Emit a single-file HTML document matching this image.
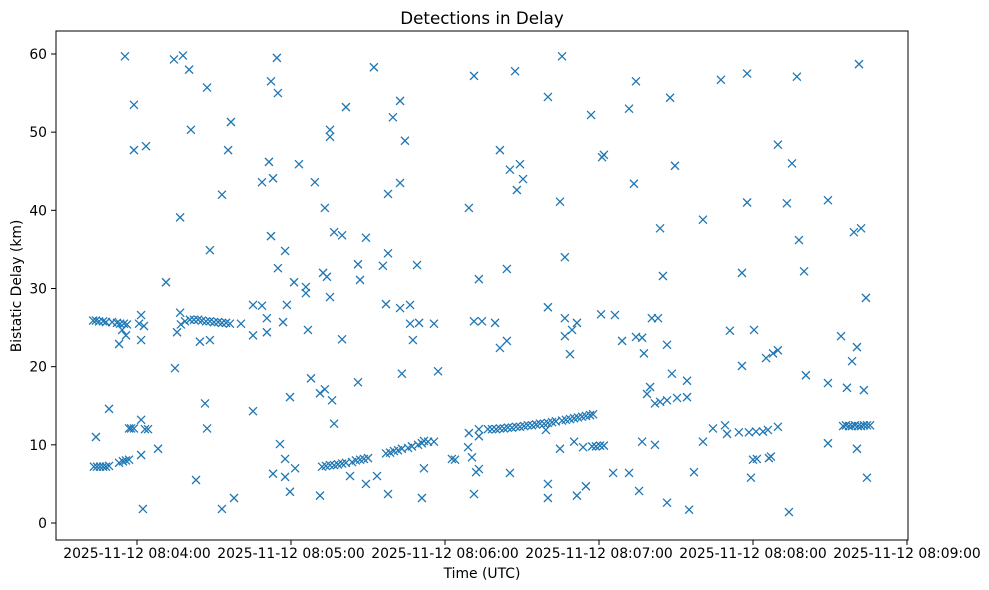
<!DOCTYPE html>
<html><head><meta charset="utf-8"><style>
body{margin:0;background:#fff;}
svg{display:block;font-family:"DejaVu Sans","Liberation Sans",sans-serif;}
</style></head><body>
<svg id="chart" width="989" height="590" viewBox="0 0 989 590" xmlns="http://www.w3.org/2000/svg">
<rect width="989" height="590" fill="#fff"/>
<text x="482" y="24" font-size="16.7" text-anchor="middle" fill="#000">Detections in Delay</text>
<text x="482" y="578" font-size="13.9" text-anchor="middle" fill="#000">Time (UTC)</text>
<text transform="translate(21,286) rotate(-90)" font-size="13.9" text-anchor="middle" fill="#000">Bistatic Delay (km)</text>
<g id="marks"></g>
<g id="axes"></g>
<rect x="56" y="31" width="852" height="509" fill="none" stroke="#000" stroke-width="1"/>
</svg>
<script>
// seconds since 08:03:00 UTC
const times = [55.3,58.8,58.8,63.5,74.4,77.9,80.3,87.3,81.0,76.8,88.4,71.3,76.8,
42.9,44.0,45.2,46.8,47.9,50.3,52.2,53.4,54.9,56.1,
54.2,55.7,53.0,61.6,60.8,62.7,61.6,75.6,
77.1,78.7,80.6,82.2,83.8,85.3,86.9,88.4,90.0,
84.5,88.4,74.8,49.1,44.0,86.5,87.3,
56.9,57.7,58.8,63.1,64.3,61.6,68.2,61.6,
43.2,44.4,45.6,46.8,47.9,49.1,53.0,54.5,55.7,56.9,
83.0,62.3,
114.5,112.2,114.9,141.4,96.6,135.2,135.2,95.5,111.4,123.1,108.7,113.0,129.3,93.1,133.2,112.2,136.8,139.9,149.2,117.7,114.9,121.2,125.8,125.8,132.5,134.0,146.1,146.9,135.2,105.2,108.7,118.4,110.6,116.9,100.5,105.2,110.6,126.6,139.9,
91.6,93.1,94.7,96.2,
127.8,146.1,119.6,131.3,133.2,136.0,105.2,136.8,115.7,117.7,121.6,113.0,117.7,119.6,93.1,97.8,131.3,143.0,149.2,
132.1,133.6,135.2,136.8,138.3,139.9,141.4,143.8,145.3,146.9,148.4,150.0,
152.3,191.3,207.3,162.5,159.7,164.4,201.4,205.3,209.2,210.4,208.0,162.5,157.8,189.3,157.8,155.8,169.1,193.2,204.1,157.0,162.5,166.4,166.4,169.9,175.7,167.5,191.3,194.4,199.5,201.4,204.1,163.2,177.3,
157.0,158.6,160.1,161.7,163.2,165.6,167.1,169.5,171.0,171.8,173.4,175.7,
153.5,157.8,171.0,171.8,182.7,183.9,189.0,190.5,189.3,193.2,193.2,192.1,193.2,191.3,205.3,
196.7,198.3,199.9,201.4,203.0,204.5,206.1,207.7,209.2,210.8,212.3,213.9,215.5,217.0,218.6,220.1,221.7,223.2,225.6,227.1,228.7,230.3,231.8,233.4,234.9,236.5,237.7,
225.6,220.1,236.9,254.4,251.7,241.2,241.9,253.6,224.8,226.7,220.1,226.7,231.4,226.7,229.5,228.7,240.8,246.2,249.0,254.4,256.8,257.5,259.9,258.7,
219.3,224.8,230.3,233.8,237.3,238.8,240.4,241.9,256.8,245.5,251.7,220.1,220.1,231.4,234.9,255.6,
267.7,287.5,297.7,269.6,309.7,297.7,263.8,280.5,264.9,295.7,260.6,263.0,266.5,291.0,300.4,295.7,305.1,307.8,309.7,268.4,274.3,261.8,263.8,266.5,270.4,274.3,
261.8,280.5,284.4,289.1,289.9,294.5,298.4,301.2,303.9,305.8,309.7,300.0,301.5,306.2,307.0,299.2,277.0,266.5,275.1,
317.1,341.3,315.2,313.2,329.2,339.3,342.1,317.9,319.9,344.0,334.3,340.5,338.6,320.6,329.2,336.6,343.2,
335.1,336.2,337.4,338.6,339.7,340.9,342.1,343.2,344.4,345.6,329.2,340.5,344.4,314.0];
// bistatic delay (km)
const delays = [59.7,53.5,47.7,48.2,59.3,59.8,58.0,55.7,50.3,39.1,34.9,30.8,26.9,
25.9,25.9,25.8,25.8,25.7,25.7,25.6,25.5,25.5,25.4,
24.7,24.0,22.9,26.6,25.5,25.2,23.4,24.4,
25.4,25.8,26.0,26.0,26.0,25.9,25.8,25.8,25.7,
23.2,23.4,19.8,14.6,11.0,15.3,12.1,
12.1,12.1,12.1,12.0,12.0,13.2,9.5,8.7,
7.2,7.2,7.2,7.2,7.2,7.3,7.7,7.9,8.0,8.1,
5.5,1.8,
59.5,56.5,55.0,53.2,51.3,50.3,49.4,47.7,46.2,45.9,43.6,44.1,43.6,42.0,40.3,36.7,37.2,36.8,36.5,34.8,32.6,30.8,30.2,29.4,32.0,31.5,33.1,31.1,28.9,27.9,27.8,27.9,26.2,25.7,25.5,24.0,24.4,24.7,23.5,
25.7,25.6,25.6,25.5,
18.5,18.0,16.1,16.6,17.1,15.7,14.3,12.7,10.1,8.2,7.0,6.3,5.9,4.0,1.8,3.2,3.5,6.0,5.0,
7.2,7.3,7.4,7.4,7.5,7.6,7.7,7.8,8.0,8.1,8.2,8.3,
58.3,57.2,57.8,54.0,51.9,48.9,47.7,45.2,45.9,44.0,42.6,43.5,42.1,40.3,34.5,32.9,33.0,31.2,32.5,28.0,27.5,27.9,25.5,25.6,25.5,23.4,25.8,25.8,25.6,22.4,23.3,19.1,19.4,
8.9,9.0,9.2,9.3,9.5,9.6,9.8,10.0,10.2,10.5,10.4,10.4,
6.0,3.7,3.2,7.0,8.2,8.1,9.7,8.4,11.5,12.0,11.1,6.5,6.9,3.7,6.4,
12.0,12.0,12.0,12.1,12.1,12.2,12.2,12.3,12.3,12.4,12.5,12.5,12.6,12.7,12.7,12.8,12.9,13.0,13.1,13.2,13.3,13.4,13.5,13.6,13.7,13.8,13.9,
59.7,54.5,52.2,56.5,53.0,46.8,47.1,43.4,41.1,34.0,27.6,26.2,25.6,23.9,24.7,21.6,26.7,26.6,23.3,23.8,23.7,21.7,17.4,16.5,
11.9,9.5,10.4,9.7,9.8,9.8,9.9,9.9,10.4,6.4,6.4,5.0,3.2,3.5,4.7,4.1,
54.4,56.7,57.5,45.7,48.4,41.0,37.7,38.8,31.6,32.0,26.2,26.2,22.8,24.6,24.7,20.1,21.1,21.7,22.1,19.1,18.2,15.3,15.5,15.7,16.0,16.1,
10.0,10.4,12.1,12.5,11.4,11.6,11.6,11.7,11.7,11.9,12.3,8.1,8.2,8.3,8.5,5.8,6.5,2.6,1.7,
57.1,58.7,46.0,40.9,41.3,37.2,37.7,36.2,32.2,28.8,23.9,22.5,20.7,18.9,17.9,17.3,17.0,
12.4,12.5,12.4,12.4,12.5,12.4,12.4,12.5,12.5,12.5,10.2,9.5,5.8,1.4];
const xTickSeconds = [60,120,180,240,300,360];
const xTickLabels = ["2025-11-12 08:04:00","2025-11-12 08:05:00","2025-11-12 08:06:00","2025-11-12 08:07:00","2025-11-12 08:08:00","2025-11-12 08:09:00"];
const yTicks = [0,10,20,30,40,50,60];

const NS = "http://www.w3.org/2000/svg";
function xScale(t){ return -17 + t * 154 / 60; }
function yScale(d){ return 523 - d * 7.817; }
const marks = document.getElementById('marks');
const axes = document.getElementById('axes');
const n = Math.min(times.length, delays.length);
for (let i = 0; i < n; i++) {
  const cx = xScale(times[i]), cy = yScale(delays[i]);
  const p = document.createElementNS(NS, 'path');
  p.setAttribute('d', `M${cx-4},${cy-4}L${cx+4},${cy+4}M${cx-4},${cy+4}L${cx+4},${cy-4}`);
  p.setAttribute('stroke', '#1f77b4');
  p.setAttribute('stroke-width', '1.3');
  p.setAttribute('fill', 'none');
  
  
  marks.appendChild(p);
}
xTickSeconds.forEach((t, i) => {
  const x = xScale(t);
  const l = document.createElementNS(NS, 'line');
  l.setAttribute('x1', x); l.setAttribute('x2', x); l.setAttribute('y1', 540); l.setAttribute('y2', 545);
  l.setAttribute('stroke', '#000');
  
  
  axes.appendChild(l);
  const tx = document.createElementNS(NS, 'text');
  tx.setAttribute('x', x); tx.setAttribute('y', 558);
  tx.setAttribute('font-size', '13.9'); tx.setAttribute('text-anchor', 'middle');
  tx.textContent = xTickLabels[i];
  
  
  axes.appendChild(tx);
});
yTicks.forEach(v => {
  const y = yScale(v);
  const l = document.createElementNS(NS, 'line');
  l.setAttribute('x1', 51); l.setAttribute('x2', 56); l.setAttribute('y1', y); l.setAttribute('y2', y);
  l.setAttribute('stroke', '#000');
  
  
  axes.appendChild(l);
  const tx = document.createElementNS(NS, 'text');
  tx.setAttribute('x', 47); tx.setAttribute('y', y + 5);
  tx.setAttribute('font-size', '13.9'); tx.setAttribute('text-anchor', 'end');
  tx.textContent = v;
  
  
  axes.appendChild(tx);
});
</script>
</body></html>
